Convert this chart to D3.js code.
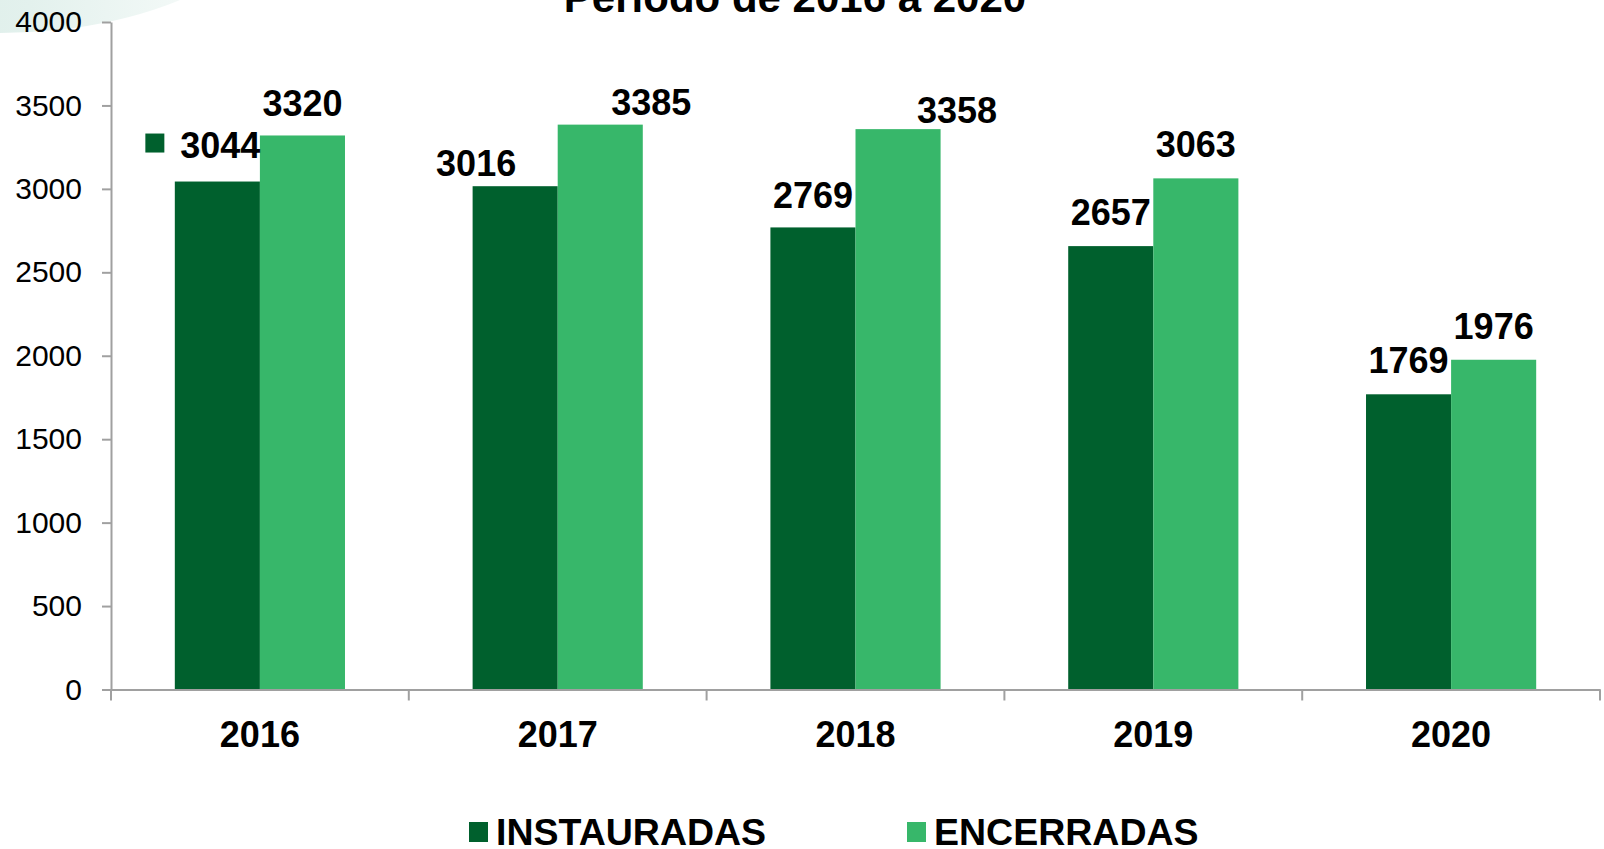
<!DOCTYPE html>
<html lang="pt">
<head>
  <meta charset="UTF-8">
  <title>Período de 2016 a 2020</title>
  <style>
    body { margin: 0; background: #fff; }
    svg { display: block; font-family: "Liberation Sans", Arial, sans-serif; }
    .axis path, .axis line { stroke: #a0a0a0; stroke-width: 2px; fill: none; }
    .axis text { fill: #000; }
  </style>
</head>
<body>
  <svg id="chart"></svg>
  <script src="https://cdn.jsdelivr.net/npm/d3@7"></script>
  <script>
    // dados
    var anos = ["2016", "2017", "2018", "2019", "2020"];
    var series = ["INSTAURADAS", "ENCERRADAS"];
    var instauradas = [3044, 3016, 2769, 2657, 1769];
    var encerradas = [3320, 3385, 3358, 3063, 1976];
    var yTicks = [0, 500, 1000, 1500, 2000, 2500, 3000, 3500, 4000];
    // rótulos deslocados à mão no original
    var nudgeInst = [[3, -3], [-39, 11], [0, 2], [0, 0], [0, 0]];
    var nudgeEnc = [[0, 2], [51, 11], [59, 15], [0, 0], [0, 0]];

    var w = 1604, h = 849;
    var cores = { "INSTAURADAS": "#00602d", "ENCERRADAS": "#37b76a" };
    var svg = d3.select("#chart").attr("width", w).attr("height", h);

    // fundo decorativo no canto
    var grad = svg.append("defs").append("linearGradient")
      .attr("id", "fundo").attr("x1", "0").attr("x2", "1").attr("y1", "0").attr("y2", "0");
    grad.append("stop").attr("offset", "0").attr("stop-color", "#cfe8e1");
    grad.append("stop").attr("offset", "0.55").attr("stop-color", "#e3f1ed");
    grad.append("stop").attr("offset", "1").attr("stop-color", "#ffffff");
    svg.append("ellipse")
      .attr("cx", 0).attr("cy", -132).attr("rx", 300).attr("ry", 165)
      .attr("fill", "url(#fundo)");

    var padding = { left: 111, right: 4, top: 22, bottom: 160 };

    var x0 = d3.scaleBand().domain(anos)
      .range([padding.left, w - padding.right]).paddingInner(0).paddingOuter(0);
    var x1 = d3.scaleBand().domain(series)
      .range([0, x0.bandwidth()]).paddingInner(0).paddingOuter(0.75);
    var y = d3.scaleLinear().domain([0, 4000]).range([h - padding.bottom + 0.5, padding.top]);

    // título (cortado no topo)
    svg.append("text")
      .attr("x", 795).attr("y", 12)
      .attr("text-anchor", "middle")
      .attr("font-size", "42px").attr("font-weight", "bold")
      .text("Período de 2016 a 2020");

    // barras
    var linhas = anos.map(function(a, i) {
      return { ano: a, i: i, vals: [
        { s: "INSTAURADAS", v: instauradas[i], n: nudgeInst[i] },
        { s: "ENCERRADAS", v: encerradas[i], n: nudgeEnc[i] }
      ] };
    });

    var grupos = svg.append("g").selectAll("g")
      .data(linhas).enter().append("g")
      .attr("transform", function(d) { return "translate(" + x0(d.ano) + ",0)"; });

    grupos.selectAll("rect")
      .data(function(d) { return d.vals; })
      .enter().append("rect")
      .attr("x", function(d) { return x1(d.s); })
      .attr("y", function(d) { return y(d.v); })
      .attr("width", x1.bandwidth())
      .attr("height", function(d) { return y(0) - y(d.v); })
      .attr("fill", function(d) { return cores[d.s]; });

    grupos.selectAll("text.rotulo")
      .data(function(d) { return d.vals; })
      .enter().append("text")
      .attr("class", "rotulo")
      .attr("x", function(d) { return x1(d.s) + x1.bandwidth() / 2 + d.n[0]; })
      .attr("y", function(d) { return y(d.v) - 21 + d.n[1]; })
      .attr("text-anchor", "middle")
      .attr("font-size", "36px").attr("font-weight", "bold")
      .text(function(d) { return d.v; });

    // chave de legenda junto ao primeiro rótulo
    var g0 = grupos.filter(function(d) { return d.i === 0; });
    g0.append("rect")
      .attr("x", x1("INSTAURADAS") + x1.bandwidth() / 2 + nudgeInst[0][0] - 75)
      .attr("y", y(instauradas[0]) - 21 + nudgeInst[0][1] - 24)
      .attr("width", 19).attr("height", 19)
      .attr("fill", cores["INSTAURADAS"]);

    // eixo Y
    var yAxis = d3.axisLeft(y).tickValues(yTicks).tickFormat(d3.format("d"))
      .tickSize(9).tickPadding(20).tickSizeOuter(0);
    svg.append("g").attr("class", "axis")
      .attr("transform", "translate(" + padding.left + ",0)")
      .call(yAxis)
      .selectAll("text").attr("font-size", "30px").attr("font-family", "Liberation Sans, Arial, sans-serif");

    // eixo X
    var xAxis = d3.axisBottom(x0).tickSize(0).tickPadding(32).tickSizeOuter(0);
    var gx = svg.append("g").attr("class", "axis")
      .attr("transform", "translate(0," + y(0) + ")")
      .call(xAxis);
    gx.selectAll("text").attr("font-size", "36px").attr("font-weight", "bold")
      .attr("font-family", "Liberation Sans, Arial, sans-serif");
    var limites = anos.map(function(a) { return x0(a); }).concat([x0.range()[1]]);
    gx.selectAll("line.limite")
      .data(limites).enter().append("line")
      .attr("class", "limite")
      .attr("x1", function(d) { return d; }).attr("x2", function(d) { return d; })
      .attr("y1", 0).attr("y2", 11);

    // legenda
    var legX = [469, 907];
    var leg = svg.append("g").selectAll("g")
      .data(series).enter().append("g")
      .attr("transform", function(d, i) { return "translate(" + legX[i] + ",822)"; });
    leg.append("rect").attr("width", 19).attr("height", 20)
      .attr("fill", function(d) { return cores[d]; });
    leg.append("text").attr("x", 27).attr("y", 23)
      .attr("font-size", "37.5px").attr("font-weight", "bold")
      .text(function(d) { return d; });
  </script>
</body>
</html>
